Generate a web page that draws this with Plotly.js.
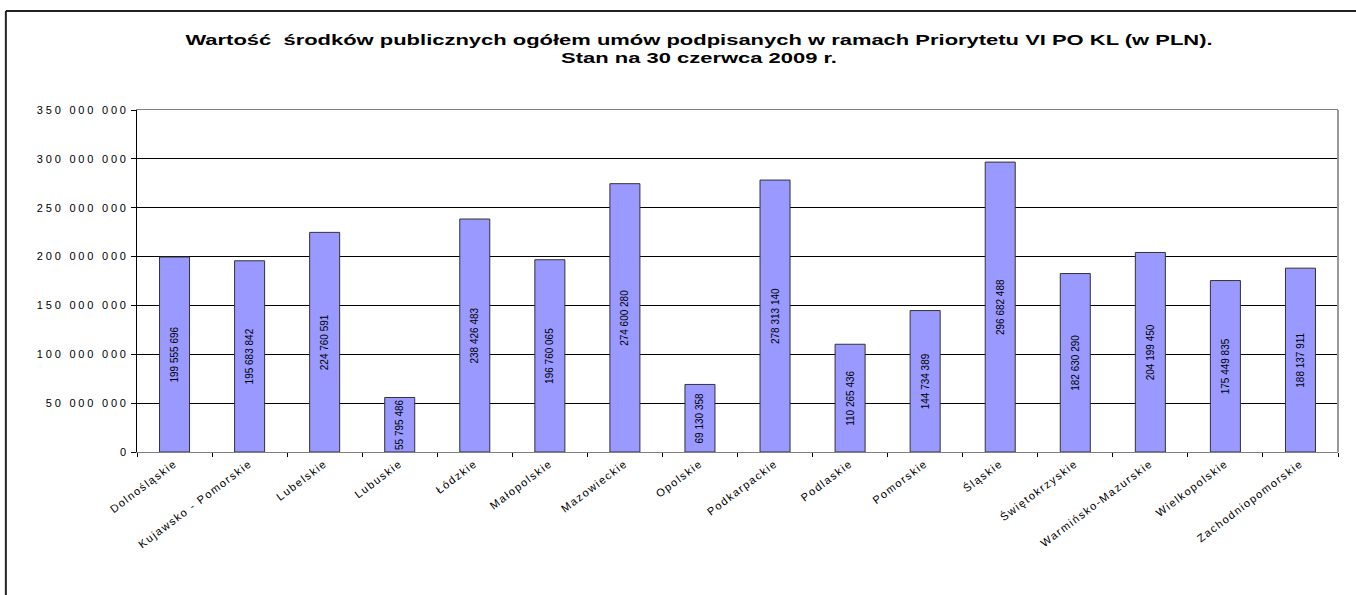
<!DOCTYPE html>
<html>
<head>
<meta charset="utf-8">
<script src="https://cdn.plot.ly/plotly-3.0.1.min.js"></script>
<style>
  html, body { margin: 0; padding: 0; background: #fff; }
  #chart { width: 1356px; height: 595px; }
  #chart text.gtitle { transform-box: fill-box; transform-origin: center; transform: scaleX(1.57); }
  #chart g.ytick text { letter-spacing: 2.8px; }
  #chart g.xtick text { letter-spacing: 1.5px; }
</style>
</head>
<body>
<div id="chart"></div>
<script>
const regions = [
  "Dolnośląskie", "Kujawsko - Pomorskie", "Lubelskie", "Lubuskie", "Łódzkie",
  "Małopolskie", "Mazowieckie", "Opolskie", "Podkarpackie", "Podlaskie",
  "Pomorskie", "Śląskie", "Świętokrzyskie", "Warmińsko-Mazurskie",
  "Wielkopolskie", "Zachodniopomorskie"
];
const values = [
  199555696, 195683842, 224760591, 55795486, 238426483,
  196760065, 274600280, 69130358, 278313140, 110265436,
  144734389, 296682488, 182630290, 204199450,
  175449835, 188137911
];
const yTicks = [0, 50000000, 100000000, 150000000, 200000000, 250000000, 300000000, 350000000];
const titleText = "Wartość  środków publicznych ogółem umów podpisanych w ramach Priorytetu VI PO KL (w PLN).<br>Stan na 30 czerwca 2009 r.";

const trace = {
  type: "bar",
  x: regions,
  y: values,
  marker: { color: "#9999FF", line: { color: "#333333", width: 1 } },
  texttemplate: "%{y:,d}",
  textposition: "inside",
  insidetextanchor: "middle",
  textangle: -90,
  constraintext: "none",
  textfont: { family: "Liberation Sans, Arial, sans-serif", size: 10, color: "#000" },
  hoverinfo: "x+y"
};

const layout = {
  width: 1356,
  height: 595,
  separators: ", ",
  paper_bgcolor: "#fff",
  plot_bgcolor: "#fff",
  showlegend: false,
  margin: { l: 137, r: 18, t: 110, b: 143 },
  bargap: 0.6,
  font: { family: "Liberation Sans, Arial, sans-serif", size: 11, color: "#000" },
  title: {
    text: titleText,
    font: { family: "Liberation Sans, Arial, sans-serif", size: 14, color: "#000", weight: "bold" },
    xref: "container", x: 0.5155, xanchor: "center",
    yref: "container", y: 0.924, yanchor: "top"
  },
  xaxis: {
    type: "category",
    tickangle: -37,
    tickfont: { family: "Liberation Sans, Arial, sans-serif", size: 11, color: "#000" },
    showline: true, linecolor: "#808080", linewidth: 1, mirror: true,
    ticks: "outside", tickson: "boundaries", ticklen: 4, tickcolor: "#000",
    showgrid: false,
    automargin: false
  },
  yaxis: {
    range: [0, 350000000],
    tickvals: yTicks,
    tickformat: ",d",
    tickfont: { family: "Liberation Sans, Arial, sans-serif", size: 11, color: "#000" },
    showline: true, linecolor: "#000", linewidth: 1,
    ticks: "outside", ticklen: 5, tickcolor: "#000",
    showgrid: true, gridcolor: "#000", gridwidth: 1,
    zeroline: false,
    automargin: false
  },
  shapes: [
    { type: "line", xref: "paper", yref: "paper", x0: 1, x1: 1, y0: 0, y1: 1, line: { color: "#999", width: 2 } },
    { type: "line", xref: "paper", yref: "paper", x0: -0.1092, x1: -0.1092, y0: -0.42, y1: 1.2895, line: { color: "#222", width: 2 } },
    { type: "line", xref: "paper", yref: "paper", x0: -0.1092, x1: 1.02, y0: 1.2895, y1: 1.2895, line: { color: "#222", width: 2 } }
  ]
};

Plotly.newPlot("chart", [trace], layout, { displayModeBar: false, staticPlot: true });
</script>
</body>
</html>
